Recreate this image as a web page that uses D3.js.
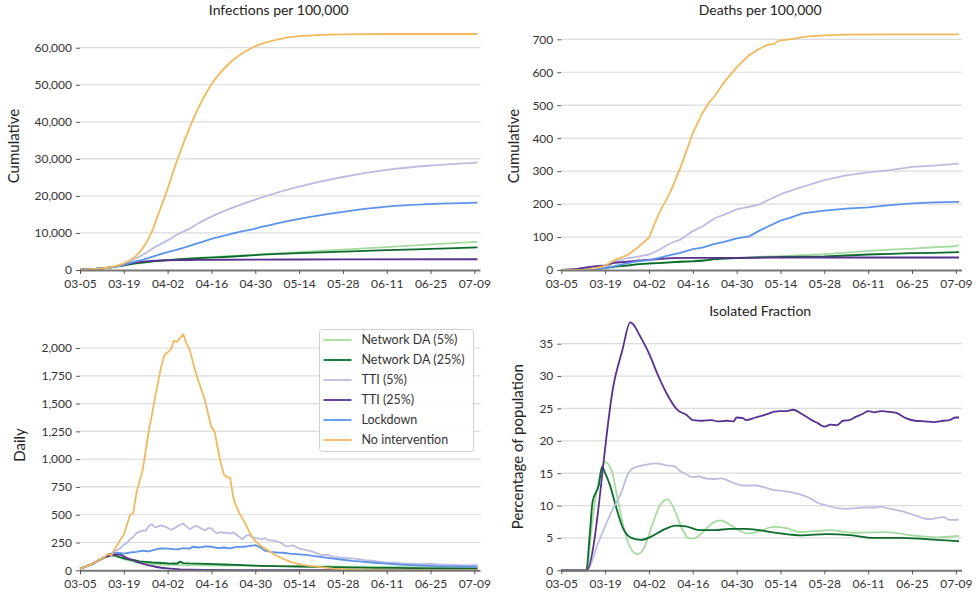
<!DOCTYPE html>
<html>
<head>
<meta charset="utf-8">
<script src="https://cdn.jsdelivr.net/npm/d3@7"></script>
<style>
  body { margin: 0; background: #fff; }
  svg text { font-family: Lato, "DejaVu Sans", sans-serif; fill: #333; }
</style>
</head>
<body>
<svg id="chart" width="977" height="594"></svg>
<script>
// scenarios, in legend order (later ones drawn on top)
const scenarios = ["Network DA (5%)", "Network DA (25%)", "TTI (5%)", "TTI (25%)", "Lockdown", "No intervention"];
const colors = ["#a6dba0", "#0b6b2c", "#bcbce0", "#58308f", "#5c93ea", "#f1b95c"];

// x axis: days since 2020-03-05
const startDate = new Date(Date.UTC(2020, 2, 5));
const lastDay = 127;
const tickDays = [0, 14, 28, 42, 56, 70, 84, 98, 112, 126];

// infections per 100,000 (cumulative) [day, value]
const infNdaLow = [[0,100],[7,400],[10,700],[14,1200],[17,1600],[21,2000],[24,2300],[28,2650],[31,2850],[35,3100],[38,3300],[42,3500],[49,3800],[56,4150],[63,4500],[70,4850],[84,5500],[98,6200],[112,6900],[127,7600]];
const infNdaHigh = [[0,100],[7,400],[10,700],[14,1250],[17,1700],[21,2100],[24,2400],[28,2650],[31,2850],[35,3050],[38,3200],[42,3350],[49,3650],[56,4000],[63,4350],[70,4550],[84,4950],[98,5350],[112,5700],[127,6100]];
const infTtiLow = [[0,100],[7,400],[10,750],[14,1500],[17,2700],[21,4600],[24,6200],[28,8000],[31,9500],[35,11200],[38,12700],[42,14400],[49,16900],[56,19000],[63,20900],[70,22500],[84,25100],[98,27000],[112,28200],[127,29000]];
const infTtiHigh = [[0,100],[7,400],[10,750],[14,1400],[17,1900],[21,2300],[24,2500],[28,2600],[31,2650],[35,2700],[42,2750],[56,2800],[84,2850],[127,2900]];
const infLockdown = [[0,100],[7,400],[10,700],[14,1400],[17,2100],[21,3000],[24,3800],[28,4800],[31,5500],[35,6500],[38,7300],[42,8400],[49,9900],[56,11200],[63,12600],[70,13800],[84,15700],[98,17100],[112,17800],[127,18200]];
const infNone = [[0,100],[7,400],[10,800],[14,1800],[17,3200],[20,5800],[22.8,10000],[25,15000],[27.2,20000],[31.2,30000],[35.8,40000],[41.9,50000],[48,56000],[55,60000],[63,62200],[70,63100],[84,63600],[98,63700],[112,63700],[127,63700]];

// deaths per 100,000 (cumulative)
const deathNdaLow = [[0,0],[7,1],[10,3],[14,6],[17,10],[21,14],[24,17],[28,19],[35,24],[42,28],[49,33],[56,37],[63,40],[70,42],[77,45],[84,48],[91,53],[98,58],[105,62],[112,65],[119,69],[126,72],[127,77]];
const deathNdaHigh = [[0,0],[7,1],[10,3],[14,6],[17,10],[21,13],[24,17],[28,20],[31,21],[35,23],[38,25],[42,26],[45,28],[49,33],[56,36],[63,38],[70,40],[84,41],[91,44],[98,47],[105,49],[112,51],[119,52],[127,54]];
const deathTtiLow = [[0,0],[7,2],[10,5],[14,10],[17,25],[21,36],[24,40],[28,47],[31,60],[35,82],[38,92],[42,118],[45,132],[49,157],[52,168],[56,184],[63,198],[70,230],[77,252],[84,273],[91,287],[98,296],[105,303],[112,313],[119,317],[127,323]];
const deathTtiHigh = [[0,0],[5,3],[8,8],[11,12],[14,14],[17,22],[21,25],[24,28],[28,31],[31,33],[35,36],[42,37],[56,37],[84,38],[127,38]];
const deathLockdown = [[0,0],[7,1],[10,3],[14,6],[17,12],[21,20],[24,26],[28,30],[31,36],[35,46],[38,52],[42,63],[45,68],[49,79],[52,85],[56,96],[60,102],[63,118],[66,132],[70,150],[73,158],[77,172],[84,180],[91,186],[98,190],[105,197],[112,202],[119,205],[127,207]];
const deathNone = [[0,0],[7,0],[10,3],[14,13],[17,30],[21,45],[24,65],[28,98],[31,168],[35,240],[38,310],[42,415],[45,475],[47,506],[49,528],[52,570],[56,615],[60,652],[63,670],[66,684],[68,686],[69.5,696],[74,701],[78,708],[84,712],[91,714],[105,715],[127,715]];

// daily new infections
const dailyNdaLow = [[0,15],[2,35],[4,60],[6,90],[8,118],[10,130],[11,130],[12,120],[14,100],[16,85],[18,70],[20,60],[22,55],[25,52],[28,50],[31,48],[35,47],[40,45],[45,43],[50,42],[55,40],[60,38],[65,37],[70,36],[75,35],[80,34],[85,33],[90,32],[95,31],[100,30],[106,29],[112,28],[118,27],[127,26]];
const dailyNdaHigh = [[0,15],[2,35],[4,60],[6,90],[8,120],[10,135],[11,137],[12,125],[14,108],[16,95],[17,93],[19,80],[21,75],[23,70],[25,68],[27,65],[29,60],[30,63],[31,60],[32,78],[33,65],[35,62],[38,60],[40,58],[43,55],[46,52],[50,48],[54,44],[58,40],[62,38],[66,36],[70,34],[75,31],[80,28],[85,25],[90,24],[95,22],[100,21],[106,19],[112,18],[118,16],[127,15]];
const dailyTtiLow = [[0,15],[2,35],[4,60],[6,90],[8,125],[9,145],[10,130],[11,170],[12,185],[13,200],[14,230],[15,245],[16,280],[17,300],[18,335],[19,345],[20,360],[21,355],[22,400],[23,415],[24,385],[25,395],[26,405],[27,395],[28,380],[29,365],[30,375],[31,395],[32,410],[33,420],[34,395],[35,370],[36,385],[37,400],[38,390],[39,370],[40,360],[41,380],[42,378],[43,345],[44,333],[45,345],[46,335],[47,342],[48,330],[49,340],[50,320],[51,300],[52,280],[53,310],[54,318],[55,300],[56,290],[57,288],[58,275],[59,290],[60,272],[62,268],[64,250],[66,215],[68,225],[70,195],[72,183],[74,170],[76,150],[77,138],[79,140],[81,120],[83,115],[85,112],[87,108],[89,100],[91,92],[93,86],[95,80],[98,68],[100,70],[103,63],[106,60],[109,55],[112,57],[115,52],[118,50],[121,47],[124,45],[127,48]];
const dailyTtiHigh = [[0,15],[2,35],[4,58],[6,88],[8,118],[10,135],[11,140],[12,145],[13,140],[14,125],[15,110],[16,100],[17,90],[18,78],[19,68],[20,60],[22,45],[24,32],[26,23],[28,17],[30,12],[32,8],[35,5],[40,3],[50,2],[127,1]];
const dailyLockdown = [[0,15],[2,35],[4,60],[6,90],[8,125],[9,145],[10,150],[11,155],[12,160],[14,150],[16,160],[18,165],[20,176],[22,170],[24,185],[26,198],[28,195],[30,190],[31,189],[33,200],[35,195],[36,212],[38,205],[40,215],[42,212],[44,200],[46,205],[48,198],[50,210],[52,212],[54,218],[56,227],[57,215],[58,200],[59,176],[61,165],[63,160],[65,158],[67,150],[69,145],[72,138],[75,128],[78,117],[81,105],[84,95],[87,85],[90,78],[94,68],[98,60],[102,52],[106,47],[110,42],[114,38],[118,35],[122,33],[127,32]];
const dailyNone = [[0,15],[2,35],[4,60],[6,90],[8,125],[9,150],[10,130],[11,190],[12,230],[13,280],[14,320],[15,410],[16,500],[17,515],[18,690],[19,800],[20,900],[21,1080],[22,1260],[23,1400],[24,1560],[25,1700],[26,1840],[27,1940],[28,1960],[29,1985],[30,2065],[31,2055],[32,2090],[33,2125],[34,2040],[35,1990],[36,1880],[37,1780],[38,1690],[39,1610],[40,1520],[41,1400],[42,1290],[43,1250],[44,1100],[45,960],[46,860],[47,840],[48,830],[49,650],[50,570],[51,510],[52,460],[53,410],[54,350],[55,300],[56,265],[57,240],[58,215],[60,180],[62,145],[64,115],[66,90],[68,70],[70,55],[72,45],[75,35],[78,25],[81,15],[85,8],[90,4],[100,2],[127,1]];

// isolated fraction, % of population
const isoNdaLow = [[0,0],[8,0],[10,8],[12,14],[14,16.7],[16,15.5],[18,11],[20,6.5],[22,3.5],[24.3,2.5],[26.5,3.5],[29,7],[31.5,10],[33.9,11],[36,9.5],[38.5,6.5],[40.5,5],[42.3,4.9],[45,5.8],[48,7.2],[50.8,7.7],[54,7],[57,6.1],[59.3,5.7],[63,6],[67.7,6.7],[72,6.5],[76.2,5.9],[80,6],[85.7,6.2],[93,5.8],[103.7,5.9],[112,5.4],[119.6,5.1],[127,5.3]];
const isoNdaHigh = [[0,0],[8,0],[9,5],[10,10.6],[12,13.2],[13,16],[14,15],[15.5,13.2],[17.6,9.6],[19.7,6.5],[22.4,5],[25.5,4.7],[28.7,5.2],[32.4,6.2],[36.6,6.9],[39.8,6.8],[44,6.2],[49,6.2],[54,6.4],[59,6.4],[63,6.2],[70,5.7],[77,5.4],[84.6,5.6],[93,5.4],[99.5,5],[108,5],[114,4.9],[120,4.7],[127,4.5]];
const isoTtiLow = [[0,0],[8,0],[12,4.5],[15.5,8.5],[19.7,12.7],[21,14.6],[23,15.8],[26,16.2],[28,16.4],[30,16.5],[32,16.4],[34,16.2],[36,16.1],[38,15.3],[40,14.8],[42,14.4],[44,14.5],[46,14.2],[49,14.1],[51,14.2],[54,13.7],[56,13.3],[58,13.1],[62,13.1],[65,12.8],[68,12.4],[70,12.3],[74,12],[77,11.6],[80,11],[82,10.4],[85,10],[88,9.6],[91,9.5],[94,9.6],[97,9.7],[100,9.7],[102,9.8],[105,9.5],[108,9.2],[111,8.8],[113,8.5],[116,8],[118,7.9],[120,8.1],[122,8.2],[124,7.8],[127,7.8]];
const isoTtiHigh = [[0,0],[8,0],[17,29.4],[19.5,34],[22,38.3],[23,38],[25,36.3],[28,33.5],[31,30],[34,27],[37,24.8],[40,24],[42,23.2],[45,23.1],[48,23.2],[50,23],[53,23.1],[55,23],[56,23.6],[58,23.5],[59,23.2],[62,23.6],[65,24],[68,24.5],[70,24.6],[72,24.6],[74,24.8],[77,24.1],[80,23.2],[82,22.7],[84,22.2],[86,22.5],[88,22.4],[90,23.1],[92,23.2],[94,23.7],[96,24.1],[98,24.6],[100,24.4],[102,24.6],[104,24.5],[107,24.3],[110,23.5],[113,23.1],[116,23],[119,22.9],[122,23.1],[124,23.2],[126,23.6],[127,23.6]];

// y ticks
const infTicks = d3.range(0, 60001, 10000);
const deathTicks = d3.range(0, 701, 100);
const dailyTicks = d3.range(0, 2001, 250);
const isoTicks = d3.range(0, 36, 5);

const svg = d3.select("#chart");
const dayToDate = d => new Date(startDate.getTime() + d * 864e5);

function drawPanel(p) {
  const g = svg.append("g");
  const x = d3.scaleUtc()
    .domain([startDate, dayToDate(lastDay)])
    .range([p.left, p.right]);
  const y = d3.scaleLinear()
    .domain([0, d3.max(p.ticks)])
    .range([p.bottom, p.topTickY]);

  // grid
  g.append("g").selectAll("line")
    .data(p.ticks.slice(1))
    .enter().append("line")
    .attr("x1", p.left).attr("x2", p.right + 3)
    .attr("y1", d => y(d)).attr("y2", d => y(d))
    .style("stroke", "#dcdcdc").style("stroke-width", 1.2);

  // y axis (ticks only)
  const ya = g.append("g")
    .attr("transform", `translate(${p.left},0)`)
    .call(d3.axisLeft(y).tickValues(p.ticks).tickSize(4).tickPadding(4).tickFormat(d3.format(",")));
  ya.select(".domain").remove();
  ya.selectAll(".tick line").style("stroke", "#555");
  ya.selectAll("text").style("font-size", "12px").style("fill", "#333").style("font-family", "Lato, sans-serif");

  // lines
  const line = d3.line()
    .x(d => x(dayToDate(d[0])))
    .y(d => y(d[1]))
    .curve(p.curve);
  g.append("g").selectAll("path")
    .data(p.series)
    .enter().append("path")
    .attr("d", line)
    .style("fill", "none")
    .style("stroke", (d, i) => colors[i])
    .style("stroke-width", 1.8)
    .style("stroke-linejoin", "round");

  // x axis
  const xa = g.append("g")
    .attr("transform", `translate(0,${p.bottom})`)
    .call(d3.axisBottom(x).tickValues(tickDays.map(dayToDate)).tickSize(4).tickSizeOuter(0).tickPadding(5).tickFormat(d3.utcFormat("%m-%d")));
  xa.select(".domain").attr("d", `M${p.left},0.5H${p.right + 3}`).style("stroke", "#777").style("stroke-width", 2);
  xa.selectAll(".tick line").style("stroke", "#555");
  xa.selectAll("text").style("font-size", "12px").style("fill", "#333").style("font-family", "Lato, sans-serif");

  if (p.title) {
    g.append("text")
      .attr("x", (p.left + p.right) / 2).attr("y", p.titleY)
      .attr("text-anchor", "middle")
      .style("font-size", "14px").style("fill", "#222")
      .text(p.title);
  }
  g.append("text")
    .attr("transform", `translate(${p.labelX},${p.labelY}) rotate(-90)`)
    .attr("text-anchor", "middle")
    .style("font-size", "15px").style("fill", "#222")
    .text(p.label);
  return g;
}

drawPanel({
  left: 80, right: 477.5, bottom: 270, topTickY: 47.7, ticks: infTicks,
  series: [infNdaLow, infNdaHigh, infTtiLow, infTtiHigh, infLockdown, infNone],
  curve: d3.curveMonotoneX, title: "Infections per 100,000", titleY: 15,
  label: "Cumulative", labelX: 19, labelY: 146
});
drawPanel({
  left: 561.3, right: 959, bottom: 270, topTickY: 39.3, ticks: deathTicks,
  series: [deathNdaLow, deathNdaHigh, deathTtiLow, deathTtiHigh, deathLockdown, deathNone],
  curve: d3.curveLinear, title: "Deaths per 100,000", titleY: 15,
  label: "Cumulative", labelX: 519, labelY: 146
});
const daily = drawPanel({
  left: 80, right: 477.5, bottom: 570.3, topTickY: 348, ticks: dailyTicks,
  series: [dailyNdaLow, dailyNdaHigh, dailyTtiLow, dailyTtiHigh, dailyLockdown, dailyNone],
  curve: d3.curveLinear, title: null,
  label: "Daily", labelX: 25, labelY: 445
});
drawPanel({
  left: 561.3, right: 959, bottom: 570.3, topTickY: 343.7, ticks: isoTicks,
  series: [isoNdaLow, isoNdaHigh, isoTtiLow, isoTtiHigh],
  curve: d3.curveMonotoneX, title: "Isolated Fraction", titleY: 315.5,
  label: "Percentage of population", labelX: 523, labelY: 446.7
});

// legend in the daily panel
const legend = daily.append("g").attr("transform", "translate(319.5,329.5)");
legend.append("rect")
  .attr("width", 154).attr("height", 122).attr("rx", 3)
  .style("fill", "#fff").style("fill-opacity", 0.85)
  .style("stroke", "#d0d0d0").style("stroke-width", 1);
const items = legend.selectAll(".item")
  .data(scenarios)
  .enter().append("g")
  .attr("class", "item")
  .attr("transform", (d, i) => `translate(0,${10.5 + i * 20})`);
items.append("line")
  .attr("x1", 4).attr("x2", 32)
  .style("stroke", (d, i) => colors[i]).style("stroke-width", 1.8);
items.append("text")
  .attr("x", 42).attr("dy", "0.35em")
  .style("font-size", "12.5px").style("fill", "#333")
  .text(d => d);
</script>
</body>
</html>
